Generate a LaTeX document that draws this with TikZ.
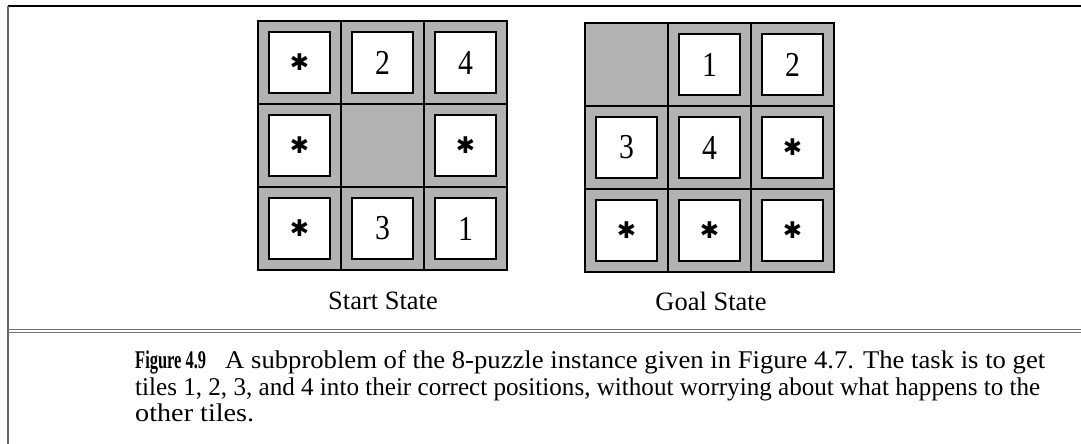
\documentclass[tikz,border=0pt]{standalone}
\usepackage{fontspec}
\setmainfont{Liberation Serif}
\newfontfamily\symfont{DejaVu Sans}
\newfontfamily\digfont[FakeStretch=0.85]{Liberation Serif}
\begin{document}
\begin{tikzpicture}[x=1pt,y=-1pt,
  cell/.style={draw=black, line width=1.8pt, fill=black!30, minimum size=83pt, inner sep=0pt, outer sep=0pt},
  tile/.style={draw=black, line width=1.3pt, fill=white, minimum size=61pt, inner sep=0pt, font=\digfont\fontsize{35}{35}\selectfont},
  ast/.style={font=\symfont\fontsize{23}{23}\selectfont, inner sep=0pt},
  lbl/.style={font=\fontsize{26.5}{26.5}\selectfont, inner sep=0pt},
  captxt/.style={font=\fontsize{25.5}{25.5}\selectfont, anchor=base west, inner sep=0pt},
  frameline/.style={draw=black, line width=1.4pt},
  sepline/.style={draw=black!55, line width=1pt}]
\useasboundingbox (0,0) rectangle (1081,444);
% frame
\coordinate (tl) at (8,6);
\coordinate (tr) at (1081,6);
\coordinate (bl) at (8,444);
\coordinate (sl) at (8,331);
\coordinate (sr) at (1081,331);
\draw[frameline] (tr) -- (tl);
\draw[draw=black!60, line width=1.2pt] (tl) -- (bl);
\draw[sepline] ([yshift=-1.5pt]sl) -- ([yshift=-1.5pt]sr);
\draw[sepline] ([yshift=1.5pt]sl) -- ([yshift=1.5pt]sr);
% cells
\foreach \r in {1,2,3} {
  \foreach \c in {1,2,3} {
    \node[cell] (s\r\c) at ({258+83*(\c-0.5)},{21+83*(\r-0.5)}) {};
    \node[cell] (g\r\c) at ({585+83*(\c-0.5)},{23+83*(\r-0.5)}) {};
  }
}
% start state
\node[tile] (st11) at (s11) {}; \node[ast] at (st11) {✱};
\node[tile] (st12) at (s12) {2};
\node[tile] (st13) at (s13) {4};
\node[tile] (st21) at (s21) {}; \node[ast] at (st21) {✱};
\node[tile] (st23) at (s23) {}; \node[ast] at (st23) {✱};
\node[tile] (st31) at (s31) {}; \node[ast] at (st31) {✱};
\node[tile] (st32) at (s32) {3};
\node[tile] (st33) at (s33) {1};
% goal state
\node[tile] (gt12) at (g12) {1};
\node[tile] (gt13) at (g13) {2};
\node[tile] (gt21) at (g21) {3};
\node[tile] (gt22) at (g22) {4};
\node[tile] (gt23) at (g23) {}; \node[ast] at (gt23) {✱};
\node[tile] (gt31) at (g31) {}; \node[ast] at (gt31) {✱};
\node[tile] (gt32) at (g32) {}; \node[ast] at (gt32) {✱};
\node[tile] (gt33) at (g33) {}; \node[ast] at (gt33) {✱};
% labels
\node[lbl] (ls) at (383,301) {Start State};
\node[lbl] (lg) at (711,301) {Goal State};
% caption
\node[captxt] (c0) at (135,368) {\resizebox{71pt}{\height}{\textbf{Figure 4.9}}};
\node[captxt] (c1) at (225,368) {\resizebox{820pt}{\height}{A subproblem of the 8-puzzle instance given in Figure 4.7. The task is to get}};
\node[captxt] (c2) at (135,395) {\resizebox{905pt}{\height}{tiles 1, 2, 3, and 4 into their correct positions, without worrying about what happens to the}};
\node[captxt] (c3) at (135,421) {\resizebox{119pt}{\height}{other tiles.}};
\end{tikzpicture}
\end{document}
